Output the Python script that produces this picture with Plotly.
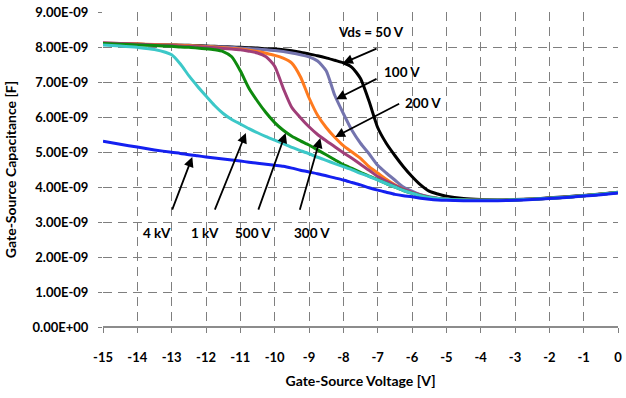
import plotly.graph_objects as go

# Gate-source voltage [V]
vgs = [-15, -14.5, -14, -13.5, -13, -12.75, -12.5, -12.25, -12, -11.75, -11.5, -11.25,
       -11, -10.75, -10.5, -10.25, -10, -9.75, -9.5, -9.25, -9, -8.75, -8.5, -8.25,
       -8, -7.75, -7.5, -7.25, -7, -6.75, -6.5, -6.25, -6, -5.75, -5.5, -5.25, -5,
       -4.5, -4, -3.5, -3, -2.5, -2, -1.5, -1, -0.5, 0]

# Gate-source capacitance [nF]
c_50v = [8.10, 8.09, 8.08, 8.07, 8.06, 8.05, 8.05, 8.04, 8.03, 8.02, 8.01, 8.00,
         7.99, 7.98, 7.97, 7.95, 7.94, 7.92, 7.89, 7.85, 7.80, 7.75, 7.69, 7.62,
         7.55, 7.42, 7.10, 6.45, 5.70, 5.25, 4.90, 4.58, 4.30, 4.06, 3.88, 3.80, 3.74,
         3.67, 3.64, 3.63, 3.64, 3.66, 3.69, 3.72, 3.76, 3.80, 3.85]
c_100v = [8.10, 8.09, 8.08, 8.07, 8.06, 8.05, 8.04, 8.03, 8.02, 8.01, 8.00, 7.99,
          7.97, 7.96, 7.94, 7.92, 7.90, 7.87, 7.83, 7.78, 7.72, 7.60, 7.32, 6.62,
          6.10, 5.62, 5.25, 4.95, 4.62, 4.40, 4.20, 4.00, 3.88, 3.78, 3.72, 3.68, 3.66,
          3.63, 3.62, 3.62, 3.63, 3.65, 3.68, 3.71, 3.75, 3.79, 3.84]
c_200v = [8.11, 8.10, 8.09, 8.07, 8.06, 8.05, 8.04, 8.03, 8.01, 8.00, 7.98, 7.96,
          7.94, 7.91, 7.87, 7.82, 7.76, 7.68, 7.54, 7.15, 6.55, 6.05, 5.70, 5.42,
          5.18, 5.00, 4.82, 4.58, 4.40, 4.22, 4.06, 3.93, 3.83, 3.75, 3.70, 3.67, 3.65,
          3.63, 3.62, 3.62, 3.63, 3.65, 3.68, 3.71, 3.75, 3.79, 3.84]
c_300v = [8.12, 8.10, 8.08, 8.06, 8.04, 8.03, 8.02, 8.01, 8.00, 7.98, 7.96, 7.94,
          7.92, 7.88, 7.83, 7.72, 7.45, 6.82, 6.27, 5.98, 5.72, 5.50, 5.32, 5.15,
          4.98, 4.82, 4.65, 4.48, 4.30, 4.17, 4.05, 3.94, 3.85, 3.77, 3.71, 3.67, 3.65,
          3.63, 3.62, 3.62, 3.63, 3.65, 3.68, 3.71, 3.75, 3.79, 3.84]
c_500v = [8.10, 8.08, 8.06, 8.04, 8.02, 8.00, 7.99, 7.97, 7.95, 7.92, 7.87, 7.72,
          7.32, 6.82, 6.45, 6.12, 5.84, 5.62, 5.45, 5.32, 5.20, 5.06, 4.92, 4.78,
          4.64, 4.53, 4.42, 4.31, 4.21, 4.10, 4.00, 3.90, 3.82, 3.75, 3.70, 3.67, 3.65,
          3.63, 3.62, 3.62, 3.63, 3.65, 3.68, 3.71, 3.75, 3.79, 3.84]
c_1kv = [8.06, 8.03, 7.99, 7.93, 7.78, 7.52, 7.18, 6.88, 6.60, 6.33, 6.10, 5.93,
         5.80, 5.67, 5.55, 5.44, 5.34, 5.24, 5.13, 5.04, 4.95, 4.85, 4.76, 4.67,
         4.58, 4.49, 4.39, 4.30, 4.20, 4.10, 4.00, 3.90, 3.82, 3.75, 3.70, 3.67, 3.65,
         3.63, 3.62, 3.62, 3.63, 3.65, 3.68, 3.71, 3.75, 3.79, 3.84]
c_4kv = [5.31, 5.22, 5.14, 5.06, 4.99, 4.96, 4.92, 4.89, 4.86, 4.83, 4.80, 4.77,
         4.74, 4.71, 4.68, 4.65, 4.62, 4.59, 4.54, 4.48, 4.43, 4.38, 4.32, 4.26,
         4.20, 4.13, 4.06, 3.98, 3.91, 3.85, 3.79, 3.75, 3.72, 3.68, 3.65, 3.63, 3.62,
         3.61, 3.61, 3.61, 3.62, 3.64, 3.67, 3.70, 3.74, 3.78, 3.83]

series = [
    ("50 V", c_50v, "#000000"),
    ("100 V", c_100v, "#7474AE"),
    ("200 V", c_200v, "#FF7A1E"),
    ("300 V", c_300v, "#A03E78"),
    ("500 V", c_500v, "#0E8A0E"),
    ("1 kV", c_1kv, "#3CC8C8"),
    ("4 kV", c_4kv, "#1420F0"),
]

x_ticks = list(range(-15, 1))
x_tick_labels = ["-15", "-14", "-13", "-12", "-11", "-10", "-9", "-8", "-7", "-6",
                 "-5", "-4", "-3", "-2", "-1", "0"]
y_ticks = [0, 1, 2, 3, 4, 5, 6, 7, 8, 9]
y_tick_labels = ["0.00E+00", "1.00E-09", "2.00E-09", "3.00E-09", "4.00E-09",
                 "5.00E-09", "6.00E-09", "7.00E-09", "8.00E-09", "9.00E-09"]

# labels: (text, text_x, text_y, tail_x, tail_y, tip_x, tip_y)
labels = [
    ("Vds = 50 V", -7.2, 8.43, -6.99, 7.97, -8.01, 7.54),
    ("100 V", -6.3, 7.29, -6.99, 7.11, -8.21, 6.51),
    ("200 V", -5.69, 6.40, -6.33, 6.40, -8.24, 5.43),
    ("300 V", -8.9, 2.69, -9.28, 3.31, -8.67, 5.40),
    ("500 V", -10.64, 2.69, -10.49, 3.31, -9.68, 5.54),
    ("1 kV", -12.02, 2.69, -11.76, 3.31, -10.84, 5.54),
    ("4 kV", -13.44, 2.69, -13.0, 3.31, -12.4, 4.86),
]

FONT = "Lato"
fig = go.Figure()
for name, vals, col in series:
    fig.add_trace(go.Scatter(x=vgs, y=vals, mode="lines", name=name,
                             line=dict(color=col, width=3, shape="spline", smoothing=0.6)))

annotations = []
for txt, tx, ty, ax, ay, px, py in labels:
    annotations.append(dict(x=tx, y=ty, text="<b>" + txt + "</b>", showarrow=False,
                            font=dict(family=FONT, size=13.5, color="black")))
    annotations.append(dict(x=px, y=py, ax=ax, ay=ay, xref="x", yref="y", axref="x", ayref="y",
                            text="", showarrow=True, arrowhead=2, arrowsize=1.1,
                            arrowwidth=1.8, arrowcolor="black"))

grid = dict(showgrid=True, gridcolor="#7F7F7F", gridwidth=1, griddash="9px,6px")
tickfont = dict(family=FONT, size=13, color="black", weight="bold")
titlefont = dict(family=FONT, size=14, color="black", weight="bold")
fig.update_layout(
    width=626, height=398,
    margin=dict(l=103, r=4, t=12, b=71),
    paper_bgcolor="white", plot_bgcolor="white",
    showlegend=False,
    font=dict(family=FONT, size=12, color="black"),
    annotations=annotations,
    xaxis=dict(range=[-15, 0], tickvals=x_ticks, ticktext=x_tick_labels,
               ticks="outside", ticklen=5, tickcolor="#7F7F7F", ticklabelstandoff=13,
               ticklabeloverflow="allow",
               tickfont=tickfont,
               title=dict(text="Gate-Source Voltage [V]", standoff=12, font=titlefont),
               zeroline=False, showline=False, **grid),
    yaxis=dict(range=[0, 9], tickvals=y_ticks, ticktext=y_tick_labels, ticks="outside",
               ticklen=4, tickcolor="#7F7F7F", ticklabelstandoff=7,
               tickfont=tickfont,
               title=dict(text="Gate-Source Capacitance [F]", standoff=12, font=titlefont),
               zeroline=True, zerolinecolor="#8C8C8C", zerolinewidth=1.5,
               showline=False, **grid),
)

fig.write_html("out.html")
